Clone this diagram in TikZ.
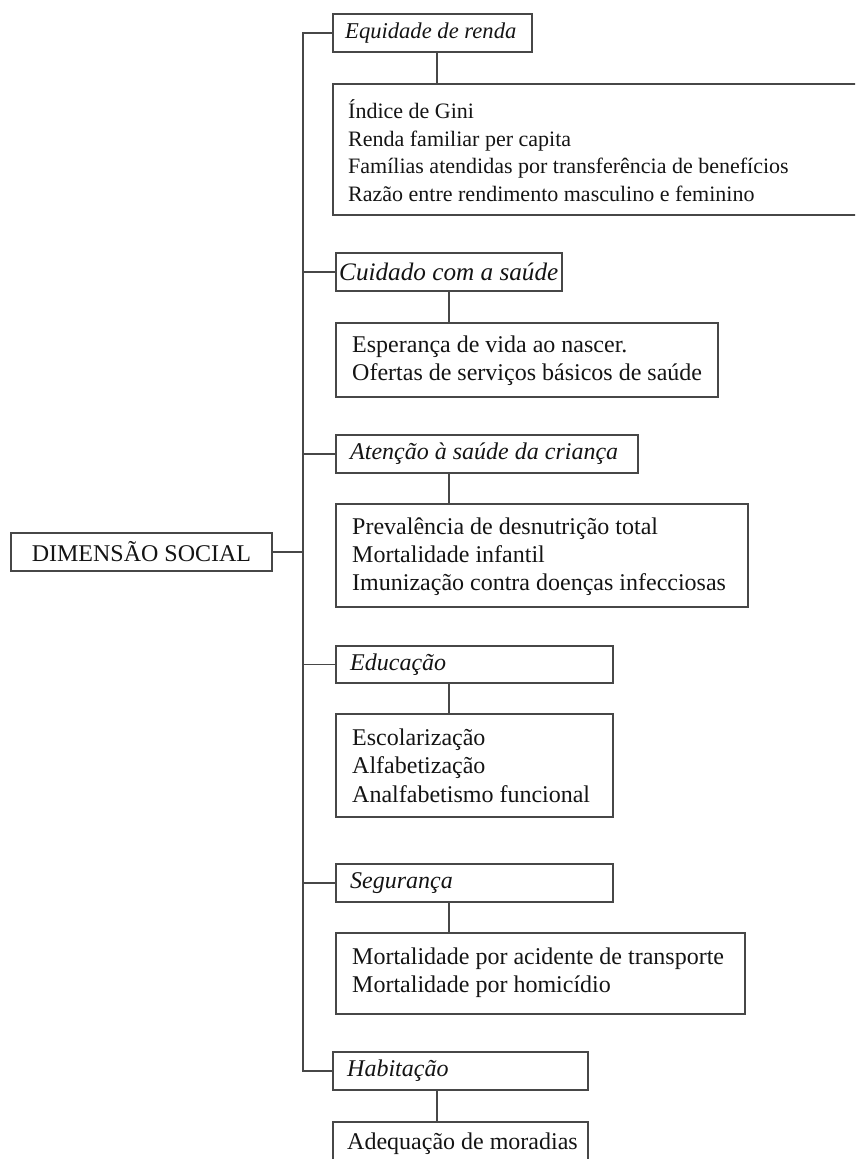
\documentclass[tikz,border=0pt]{standalone}
\usepackage{fontspec}
\setmainfont{Liberation Serif}
\begin{document}
\begin{tikzpicture}[x=1pt,y=-1pt,
  box/.style={draw=black!72, line width=1.1pt, anchor=north west, inner sep=0pt, outer sep=0pt},
  txt/.style={anchor=west, inner sep=0pt, align=left, text=black!92, font=\fontsize{24}{28.3}\selectfont},
  itx/.style={txt, font=\fontsize{24}{28}\selectfont\itshape},
  toptxt/.style={txt, font=\fontsize{22}{27.5}\selectfont},
  topitx/.style={txt, font=\fontsize{22.6}{27}\selectfont\itshape},
  wire/.style={draw=black!72, line width=1.1pt}
]
\useasboundingbox (0,0) rectangle (855,1159);
\clip (0,0) rectangle (855,1159);

% root
\node[box, minimum width=261pt, minimum height=38pt] (dim) at (11,533) {};
\node[txt, anchor=center] (dimt) at (dim.center) {DIMENSÃO SOCIAL};

% Equidade de renda
\node[box, minimum width=199pt, minimum height=38pt] (eq) at (333,14) {};
\node[topitx] (eqt) at ([xshift=12pt]eq.west) {Equidade de renda};
\node[box, minimum width=540pt, minimum height=131pt] (eqc) at (333,84) {};
\node[toptxt] (eqct) at ([xshift=15pt,yshift=-1pt]eqc.west)
  {Índice de Gini\\Renda familiar per capita\\Famílias atendidas por transferência de benefícios\\Razão entre rendimento masculino e feminino};

% Cuidado com a saude
\node[box, minimum width=226pt, minimum height=38pt] (cs) at (336,253) {};
\node[itx, font=\fontsize{25.2}{28}\selectfont\itshape] (cst) at ([xshift=3pt]cs.west) {Cuidado com a saúde};
\node[box, minimum width=382pt, minimum height=74pt] (csc) at (336,323) {};
\node[txt] (csct) at ([xshift=16pt,yshift=-1pt]csc.west)
  {Esperança de vida ao nascer.\\Ofertas de serviços básicos de saúde};

% Atencao a saude da crianca
\node[box, minimum width=302pt, minimum height=38pt] (at) at (336,435) {};
\node[itx] (att) at ([xshift=14pt]at.west) {Atenção à saúde da criança};
\node[box, minimum width=412pt, minimum height=103pt] (atc) at (336,504) {};
\node[txt] (atct) at ([xshift=16pt,yshift=-1pt]atc.west)
  {Prevalência de desnutrição total\\Mortalidade infantil\\Imunização contra doenças infecciosas};

% Educacao
\node[box, minimum width=277pt, minimum height=37pt] (ed) at (336,646) {};
\node[itx] (edt) at ([xshift=14pt]ed.west) {Educação};
\node[box, minimum width=277pt, minimum height=103pt] (edc) at (336,714) {};
\node[txt] (edct) at ([xshift=16pt]edc.west)
  {Escolarização\\Alfabetização\\Analfabetismo funcional};

% Seguranca
\node[box, minimum width=277pt, minimum height=38pt] (se) at (336,864) {};
\node[itx] (set) at ([xshift=14pt]se.west) {Segurança};
\node[box, minimum width=409pt, minimum height=81pt] (sec) at (336,933) {};
\node[txt] (sect) at ([xshift=16pt,yshift=1pt]sec.west)
  {Mortalidade por acidente de transporte\\Mortalidade por homicídio};

% Habitacao
\node[box, minimum width=255pt, minimum height=38pt] (hab) at (333,1052) {};
\node[itx] (habt) at ([xshift=14pt]hab.west) {Habitação};
\node[box, minimum width=255pt, minimum height=44pt] (habc) at (333,1122) {};
\node[txt] (habct) at ([xshift=14pt]habc.west) {Adequação de moradias};

% trunk
\coordinate (ttop) at (303,33);
\coordinate (tbot) at (303,1071);
\draw[wire] (eq.west) -- (ttop) -- (tbot) -- (hab.west);
\draw[wire] (cs.west) -- (cs.west -| ttop);
\draw[wire] (at.west) -- (at.west -| ttop);
\draw[wire] (ed.west) -- (ed.west -| ttop);
\draw[wire] (se.west) -- (se.west -| ttop);
\draw[wire] (dim.east) -- (dim.east -| ttop);

% label to content
\draw[wire] ([xshift=104pt]eq.south west) -- ([xshift=104pt]eqc.north west);
\draw[wire] ([xshift=113pt]cs.south west) -- ([xshift=113pt]csc.north west);
\draw[wire] ([xshift=113pt]at.south west) -- ([xshift=113pt]atc.north west);
\draw[wire] ([xshift=113pt]ed.south west) -- ([xshift=113pt]edc.north west);
\draw[wire] ([xshift=113pt]se.south west) -- ([xshift=113pt]sec.north west);
\draw[wire] ([xshift=104pt]hab.south west) -- ([xshift=104pt]habc.north west);
\end{tikzpicture}
\end{document}
